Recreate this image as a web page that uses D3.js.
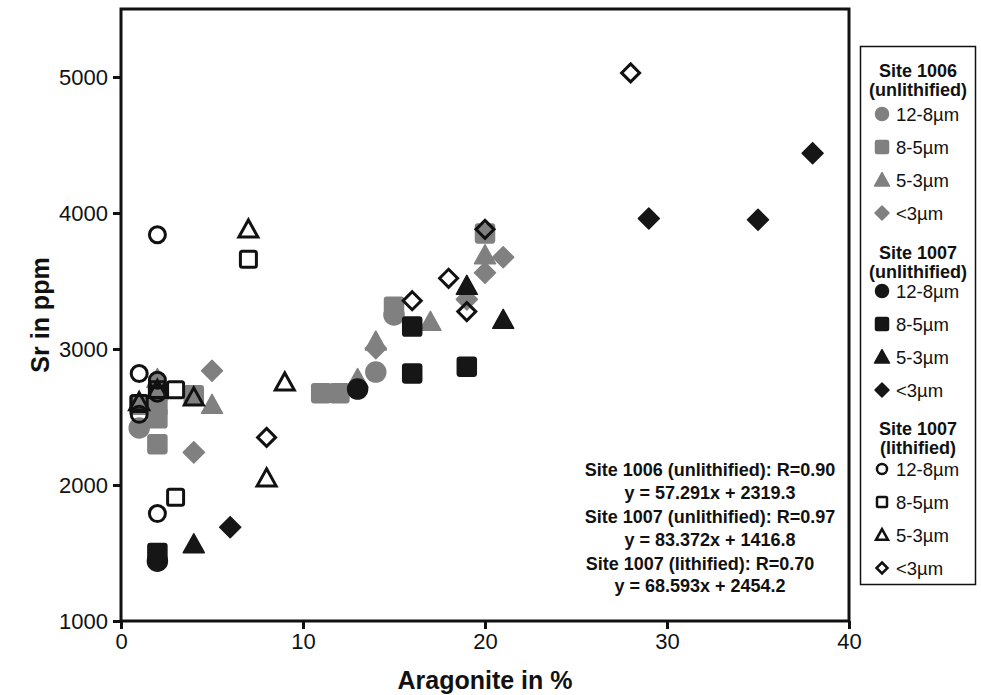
<!DOCTYPE html>
<meta charset="utf-8">
<style>
body { margin: 0; background: #fff; }
text { font-family: "Liberation Sans", Arial, Helvetica, sans-serif; fill: #111; }
.axis text { font-size: 22px; }
.axis line { stroke: #111; stroke-width: 3px; }
.axis path { display: none; }
.frame { fill: none; stroke: #111; stroke-width: 3px; }
.title { font-size: 25px; font-weight: bold; }
.note { font-size: 18px; font-weight: bold; }
.leg-title { font-size: 18px; font-weight: bold; }
.leg-item { font-size: 18.5px; }
</style>
<svg width="981" height="695"></svg>
<script src="https://d3js.org/d3.v7.min.js"></script>
<script>

// tick labels
var xTicks = [0, 10, 20, 30, 40];
var yTicks = [1000, 2000, 3000, 4000, 5000];
var sizeLabels = ["12-8µm", "8-5µm", "5-3µm", "<3µm"];
var groupTitles = [["Site 1006", "(unlithified)"], ["Site 1007", "(unlithified)"], ["Site 1007", "(lithified)"]];

// Site 1006 (unlithified) -- [aragonite %, Sr ppm]
var s1006_12_8 = [[1, 2420], [14, 2830], [15, 3250]];
var s1006_8_5 = [[1, 2590], [2, 2490], [2, 2300], [2, 2580], [4, 2660], [11, 2675], [12, 2675], [15, 3310], [20, 3850]];
var s1006_5_3 = [[2, 2780], [2, 2690], [5, 2590], [13, 2780], [14, 3055], [17, 3200], [20, 3690]];
var s1006_lt3 = [[4, 2240], [5, 2840], [14, 3005], [19, 3365], [20, 3560], [21, 3675]];

// Site 1007 (unlithified)
var s1007u_12_8 = [[2, 1440], [13, 2705]];
var s1007u_8_5 = [[2, 1500], [16, 3165], [16, 2820], [19, 2870]];
var s1007u_5_3 = [[4, 1565], [19, 3465], [21, 3215]];
var s1007u_lt3 = [[6, 1690], [29, 3960], [35, 3950], [38, 4440]];

// Site 1007 (lithified)
var s1007l_12_8 = [[2, 3840], [1, 2820], [2, 2770], [2, 2675], [1, 2520], [2, 1790]];
var s1007l_8_5 = [[7, 3660], [2, 2700], [3, 2700], [1, 2600], [3, 1910]];
var s1007l_5_3 = [[7, 3880], [9, 2755], [8, 2050], [4, 2645], [1, 2610], [2, 2700]];
var s1007l_lt3 = [[28, 5030], [8, 2350], [16, 3355], [18, 3520], [19, 3275], [20, 3880]];

var fits = [
  ["Site 1006 (unlithified): R=0.90", "y = 57.291x + 2319.3"],
  ["Site 1007 (unlithified): R=0.97", "y = 83.372x + 1416.8"],
  ["Site 1007 (lithified): R=0.70", "y = 68.593x + 2454.2"]
];

var shapes = ["circle", "square", "triangle", "diamond"];
var groups = [
  { style: "gray", series: [s1006_12_8, s1006_8_5, s1006_5_3, s1006_lt3] },
  { style: "black", series: [s1007u_12_8, s1007u_8_5, s1007u_5_3, s1007u_lt3] },
  { style: "open", series: [s1007l_12_8, s1007l_8_5, s1007l_5_3, s1007l_lt3] }
];

var svg = d3.select("svg"),
    margin = {top: 9, right: 132, bottom: 74, left: 121},
    width = +svg.attr("width") - margin.left - margin.right,
    height = +svg.attr("height") - margin.top - margin.bottom;

var x = d3.scaleLinear().domain([0, 40]).range([margin.left, margin.left + width]);
var y = d3.scaleLinear().domain([1000, 5500]).range([margin.top + height, margin.top]);

// shape paths, s = half size
function shapePath(type, s) {
  if (type == "circle") {
    return "M" + (-s) + ",0A" + s + "," + s + " 0 1,0 " + s + ",0A" + s + "," + s + " 0 1,0 " + (-s) + ",0Z";
  }
  if (type == "square") {
    var r = Math.min(2.5, s * 0.25);
    return "M" + (-s + r) + "," + (-s) + "H" + (s - r) + "Q" + s + "," + (-s) + " " + s + "," + (-s + r) +
      "V" + (s - r) + "Q" + s + "," + s + " " + (s - r) + "," + s +
      "H" + (-s + r) + "Q" + (-s) + "," + s + " " + (-s) + "," + (s - r) +
      "V" + (-s + r) + "Q" + (-s) + "," + (-s) + " " + (-s + r) + "," + (-s) + "Z";
  }
  if (type == "triangle") {
    var h = s * 1.8;
    return "M0," + (-h * 0.55) + "L" + s + "," + (h * 0.45) + "L" + (-s) + "," + (h * 0.45) + "Z";
  }
  return "M0," + (-s) + "L" + s + ",0L0," + s + "L" + (-s) + ",0Z";
}

var plotSize = {
  gray: {circle: 10, square: 9.5, triangle: 10.5, diamond: 10.5},
  black: {circle: 10, square: 9.5, triangle: 10.5, diamond: 10.5},
  open: {circle: 8, square: 8, triangle: 9.5, diamond: 9}
};
var legSize = {
  gray: {circle: 6.5, square: 6.5, triangle: 7.5, diamond: 7},
  black: {circle: 6.5, square: 6.5, triangle: 7.5, diamond: 7},
  open: {circle: 5, square: 5, triangle: 6, diamond: 5.5}
};

function styleMark(sel, style) {
  if (style == "open") {
    sel.attr("fill", "none").attr("stroke", "#111").attr("stroke-width", 3);
  } else {
    var c = style == "gray" ? "#808080" : "#161616";
    sel.attr("fill", c).attr("stroke", c).attr("stroke-width", 1.5).attr("stroke-linejoin", "round");
  }
}

// axes
svg.append("g")
    .attr("class", "axis")
    .attr("transform", "translate(0," + (margin.top + height) + ")")
    .call(d3.axisBottom(x).tickValues(xTicks).tickSize(8).tickPadding(4).tickSizeOuter(0));

svg.append("g")
    .attr("class", "axis")
    .attr("transform", "translate(" + margin.left + ",0)")
    .call(d3.axisLeft(y).tickValues(yTicks).tickFormat(d3.format("d")).tickSize(8).tickPadding(5).tickSizeOuter(0));

svg.append("rect")
    .attr("class", "frame")
    .attr("x", margin.left)
    .attr("y", margin.top)
    .attr("width", width)
    .attr("height", height);

svg.append("text")
    .attr("class", "title")
    .attr("x", margin.left + width / 2)
    .attr("y", 689)
    .attr("text-anchor", "middle")
    .text("Aragonite in %");

svg.append("text")
    .attr("class", "title")
    .attr("transform", "translate(49," + (margin.top + height / 2) + ") rotate(-90)")
    .attr("text-anchor", "middle")
    .text("Sr in ppm");

// points
groups.forEach(function(g) {
  g.series.forEach(function(data, i) {
    var type = shapes[i];
    svg.append("g").selectAll("path")
      .data(data)
      .enter().append("path")
        .attr("transform", function(d) { return "translate(" + x(d[0]) + "," + y(d[1]) + ")"; })
        .attr("d", shapePath(type, plotSize[g.style][type]))
        .call(styleMark, g.style);
  });
});

// regression notes
var noteCx = [710, 710, 700];
var noteY = [476, 499, 523, 546, 570, 592];
fits.forEach(function(f, i) {
  f.forEach(function(line, j) {
    svg.append("text")
      .attr("class", "note")
      .attr("x", noteCx[i])
      .attr("y", noteY[i * 2 + j])
      .attr("text-anchor", "middle")
      .text(line);
  });
});

// legend
var legend = svg.append("g");
legend.append("rect")
    .attr("x", 860.5)
    .attr("y", 46.5)
    .attr("width", 115)
    .attr("height", 538)
    .attr("fill", "none")
    .attr("stroke", "#111")
    .attr("stroke-width", 1.5);

var titleY = [77, 259, 435];
var itemY = [114, 291, 469];
groups.forEach(function(g, gi) {
  groupTitles[gi].forEach(function(t, ti) {
    legend.append("text")
      .attr("class", "leg-title")
      .attr("x", 918)
      .attr("y", titleY[gi] + ti * 18.5)
      .attr("text-anchor", "middle")
      .text(t);
  });
  sizeLabels.forEach(function(lab, i) {
    var cy = itemY[gi] + i * 33;
    legend.append("path")
      .attr("transform", "translate(882," + cy + ")")
      .attr("d", shapePath(shapes[i], legSize[g.style][shapes[i]]))
      .call(styleMark, g.style)
      .attr("stroke-width", g.style == "open" ? 2.5 : 1.5);
    legend.append("text")
      .attr("class", "leg-item")
      .attr("x", 896)
      .attr("y", cy + 6.5)
      .text(lab);
  });
});

</script>
